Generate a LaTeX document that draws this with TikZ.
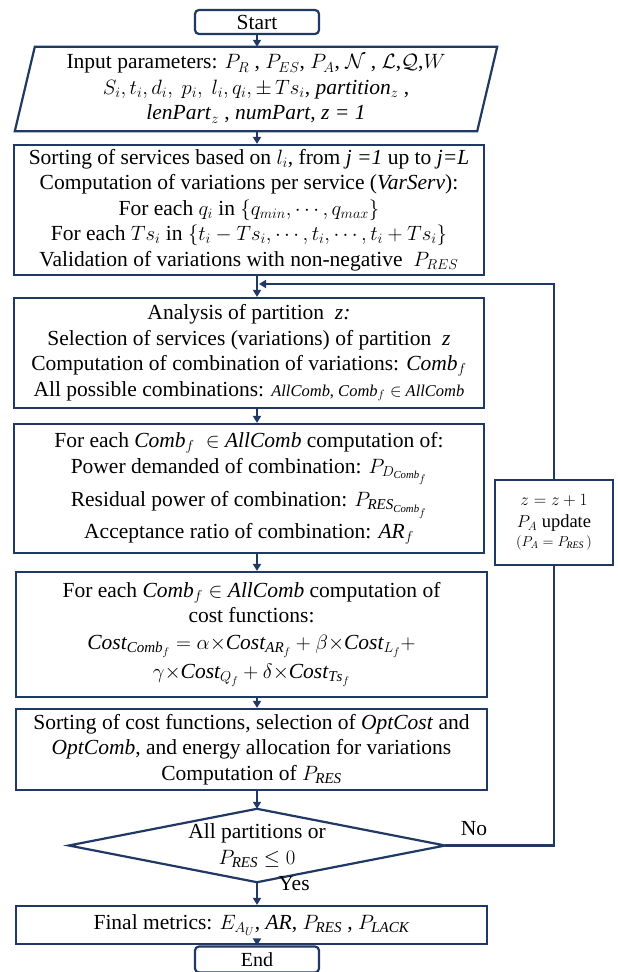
\documentclass[tikz,border=0pt]{standalone}
\usepackage{fontspec}
\setmainfont{Liberation Serif}
\usetikzlibrary{arrows.meta,shapes.geometric}
\definecolor{nav}{RGB}{31,56,100}
\begin{document}
\begin{tikzpicture}[x=1pt,y=-1pt,
  every node/.style={font=\fontsize{21.5}{25.5}\selectfont, align=center, inner sep=0pt},
  proc/.style={draw=nav, line width=2.2pt, rectangle, fill=white},
  term/.style={draw=nav, line width=2.2pt, rounded corners=4pt, minimum width=124pt, minimum height=24pt},
  arr/.style={draw=nav, line width=1.8pt, -{Triangle[width=8pt,length=7pt]}},
  lin/.style={draw=nav, line width=2.2pt}]
\useasboundingbox (0,0) rectangle (618,972);
\coordinate (ax) at (257,0);

\node[term] (st) at (257,22) {Start};

\node[minimum width=462pt, minimum height=84pt] (in) at (256,89)
 {Input parameters: $P_R$ , $P_{ES}$, $P_A$, $\mathcal{N}$ , $\mathcal{L}$,$\mathcal{Q}$,$W$\\
  $S_i, t_i, d_i,\ p_i,\ l_i, q_i, \pm\, Ts_i$, \textit{partition}$_z$ ,\\
  \textit{lenPart}$_z$ , \textit{numPart}, \textit{z = 1}};
\draw[lin] ([xshift=10pt]in.north west) -- ([xshift=10pt]in.north east)
  -- ([xshift=-10pt]in.south east) -- ([xshift=-10pt]in.south west) -- cycle;

\node[proc, minimum width=470pt, minimum height=130pt] (b2) at (249,210)
 {Sorting of services based on $l_i$, from \textit{j =1} up to \textit{j=L}\\
  Computation of variations per service (\textit{VarServ}):\\
  For each $q_i$ in $\{q_{min},\cdots,q_{max}\}$\\
  For each $Ts_i$ in $\{t_i - Ts_i,\cdots, t_i,\cdots, t_i + Ts_i\}$\\
  Validation of variations with non-negative \ $P_{RES}$};

\node[proc, minimum width=470pt, minimum height=110pt] (b3) at (249,353)
 {Analysis of partition \ \textit{z:}\\
  Selection of services (variations) of partition \ \textit{z}\\
  Computation of combination of variations: $\mathit{Comb}_f$\\
  All possible combinations: {\fontsize{16.5}{20}\selectfont\textit{AllComb}, $\mathit{Comb}_f \in$ \textit{AllComb}}};

\node[proc, minimum width=470pt, minimum height=129pt] (b4) at (249,488.5)
 {For each $\mathit{Comb}_f\ \in$ \textit{AllComb} computation of:\\
  Power demanded of combination: $P_{D_{\mathit{Comb}_f}}$\\[6pt]
  Residual power of combination: $P_{\mathit{RES}_{\mathit{Comb}_f}}$\\[4pt]
  Acceptance ratio of combination: $\mathit{AR}_f$};

\node[proc, minimum width=118pt, minimum height=85pt, font=\fontsize{18.5}{22}\selectfont] (upd) at (554,522.5)
 {$z = z + 1$\\ $P_A$ update\\[-3pt] {\fontsize{14}{16}\selectfont $(P_A = P_{\mathit{RES}}\,)$}};

\node[proc, minimum width=471pt, minimum height=125pt] (b5) at (251.5,634.5)
 {For each $\mathit{Comb}_f \in$ \textit{AllComb} computation of\\
  cost functions:\\[1pt]
  $\mathit{Cost}_{\mathit{Comb}_f} = \alpha{\times}\mathit{Cost}_{\mathit{AR}_f} + \beta{\times}\mathit{Cost}_{L_f} +$\\[4pt]
  $\gamma{\times}\mathit{Cost}_{Q_f} + \delta{\times}\mathit{Cost}_{\mathit{Ts}_f}$};

\node[proc, minimum width=471pt, minimum height=81pt] (b6) at (251.5,749.5)
 {Sorting of cost functions, selection of \textit{OptCost} and\\
  \textit{OptComb}, and energy allocation for variations\\
  Computation of $P_{\mathit{RES}}$};

\node[minimum width=376pt, minimum height=73pt] (dia) at (257,845.5)
 {All partitions or\\ $P_{\mathit{RES}} \leq 0$};
\draw[lin] (dia.north) -- (dia.east) -- (dia.south) -- (dia.west) -- cycle;

\node[proc, minimum width=471pt, minimum height=38pt] (fin) at (251.5,925)
 {Final metrics: $E_{A_U}$, \textit{AR}, $P_{\mathit{RES}}$ , $P_{\mathit{LACK}}$};

\node[term, minimum height=26pt, font=\fontsize{20}{22}\selectfont] (end) at (257,959.5) {End};

\node (yes) at (294,884) {Yes};
\node (no) at (474,829) {No};

\coordinate (lp) at (259,284);

\draw[arr] (st.south) -- (ax |- in.north);
\draw[arr] (ax |- in.south) -- (ax |- b2.north);
\draw[arr] (ax |- b2.south) -- (ax |- b3.north);
\draw[arr] (ax |- b3.south) -- (ax |- b4.north);
\draw[arr] (ax |- b4.south) -- (ax |- b5.north);
\draw[arr] (ax |- b5.south) -- (ax |- b6.north);
\draw[arr] (ax |- b6.south) -- (dia.north);
\draw[arr] (dia.south) -- (ax |- fin.north);
\draw[arr] (ax |- fin.south) -- (end.north);
\draw[lin] (dia.east) -| (upd.south);
\draw[arr] (upd.north) |- (lp);
\end{tikzpicture}
\end{document}
